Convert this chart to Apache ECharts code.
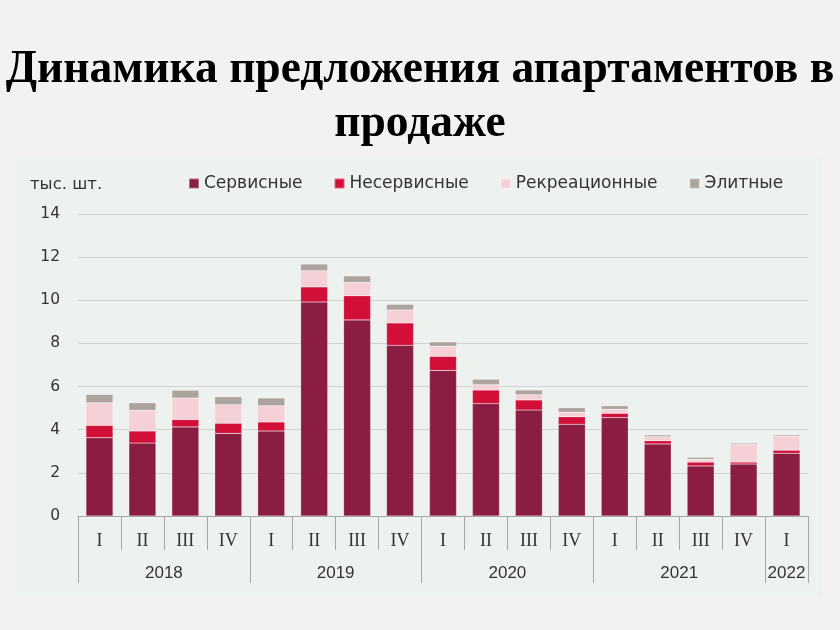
<!DOCTYPE html>
<html>
<head>
<meta charset="utf-8">
<script src="https://cdn.jsdelivr.net/npm/echarts@6/dist/echarts.min.js"></script>
<style>
  html, body { margin: 0; padding: 0; background: #f2f2f2; }
  #chart { width: 840px; height: 630px; }
</style>
</head>
<body>
<div id="chart"></div>
<script>
// квартальные данные, тыс. шт.
const quarters = ['I', 'II', 'III', 'IV', 'I', 'II', 'III', 'IV', 'I', 'II', 'III', 'IV', 'I', 'II', 'III', 'IV', 'I']
const years = ['2018', '2019', '2020', '2021', '2022']
const yearBounds = [0, 4, 8, 12, 16, 17]
const yearCenters = [2, 6, 10, 14, 16.5]

const serviced = [3.63, 3.38, 4.13, 3.83, 3.94, 9.92, 9.09, 7.91, 6.75, 5.21, 4.91, 4.25, 4.56, 3.34, 2.32, 2.41, 2.91]
const nonServiced = [0.57, 0.56, 0.34, 0.47, 0.42, 0.70, 1.12, 1.04, 0.65, 0.63, 0.47, 0.35, 0.20, 0.15, 0.18, 0.09, 0.14]
const recreational = [1.05, 0.96, 1.00, 0.86, 0.75, 0.75, 0.62, 0.60, 0.47, 0.25, 0.24, 0.21, 0.19, 0.19, 0.13, 0.82, 0.65]
const elite = [0.38, 0.35, 0.36, 0.37, 0.36, 0.31, 0.30, 0.26, 0.20, 0.25, 0.22, 0.21, 0.16, 0.08, 0.09, 0.06, 0.06]

const chart = echarts.init(document.getElementById('chart'))

const barSeries = (name, data, color) => ({
  name,
  type: 'bar',
  stack: 'total',
  data,
  barWidth: 27,
  xAxisIndex: 0,
  itemStyle: { color, borderColor: 'rgba(255,255,255,0.35)', borderWidth: 0.5 }
})

const option = {
  backgroundColor: '#f2f2f2',
  animation: false,
  graphic: [
    { type: 'rect', left: 16, top: 158, shape: { width: 806, height: 440 }, style: { fill: '#eef2ef' }, z: -10 },
    {
      type: 'text', left: 'center', top: 47,
      style: { text: 'Динамика предложения апартаментов в', font: 'bold 45.5px "Liberation Serif", serif', fill: '#000' }
    },
    {
      type: 'text', left: 'center', top: 101,
      style: { text: 'продаже', font: 'bold 45.5px "Liberation Serif", serif', fill: '#000' }
    },
    {
      type: 'text', left: 30, top: 176,
      style: { text: 'тыс. шт.', font: '16.5px "DejaVu Sans", sans-serif', fill: '#333' }
    }
  ],
  legend: {
    left: 188,
    top: 175,
    padding: 0,
    itemWidth: 10,
    itemHeight: 10,
    itemGap: 31,
    icon: 'rect',
    textStyle: { fontSize: 17, color: '#333', fontFamily: '"DejaVu Sans", sans-serif' },
    data: ['Сервисные', 'Несервисные', 'Рекреационные', 'Элитные']
  },
  grid: { left: 78, right: 32, top: 214, bottom: 114 },
  xAxis: [
    {
      type: 'category',
      data: quarters,
      position: 'bottom',
      axisLine: { show: true, lineStyle: { color: '#a6a6a6' } },
      axisTick: { show: true, length: 34, lineStyle: { color: '#a6a6a6' } },
      axisLabel: { margin: 16, fontSize: 18, color: '#333', fontFamily: '"Liberation Serif", serif' }
    },
    {
      type: 'value',
      min: 0,
      max: 17,
      position: 'bottom',
      axisLine: { show: false },
      splitLine: { show: false },
      axisTick: { show: true, length: 67, customValues: yearBounds, lineStyle: { color: '#a6a6a6' } },
      axisLabel: {
        margin: 49,
        fontSize: 17,
        color: '#333',
        fontFamily: '"Liberation Sans Narrow", "Liberation Sans", sans-serif',
        customValues: yearCenters,
        formatter: (v) => years[yearCenters.indexOf(v)]
      }
    }
  ],
  yAxis: {
    type: 'value',
    min: 0,
    max: 14,
    interval: 2,
    axisLine: { show: false },
    axisTick: { show: false },
    axisLabel: { margin: 18, fontSize: 15.5, color: '#333', fontFamily: '"DejaVu Sans", sans-serif' },
    splitLine: { lineStyle: { color: '#cfd2d0', width: 1 } }
  },
  series: [
    barSeries('Сервисные', serviced, '#8b1c42'),
    barSeries('Несервисные', nonServiced, '#d20f39'),
    barSeries('Рекреационные', recreational, '#f6d0d7'),
    barSeries('Элитные', elite, '#ada39e')
  ]
}

chart.setOption(option)
window.addEventListener('resize', () => chart.resize())
</script>
</body>
</html>
